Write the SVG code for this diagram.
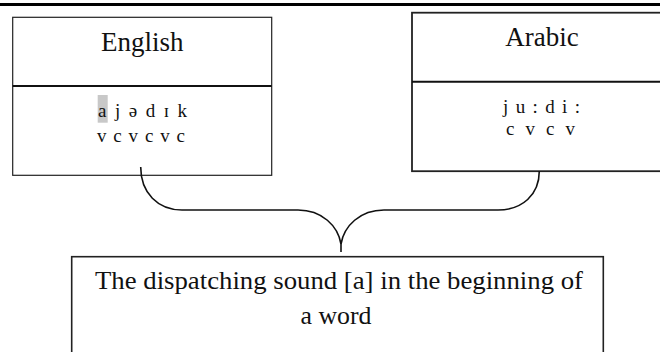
<svg xmlns="http://www.w3.org/2000/svg" width="660" height="352" viewBox="0 0 660 352">
<style>
text{font-family:"Liberation Serif","Times New Roman",serif;fill:#111;text-anchor:middle}
.t{font-size:27px}
.p{font-size:19px}
.b{font-size:25.5px}
.box{fill:#fff;stroke:#222}
.c{fill:none;stroke:#111;stroke-width:1.6}
</style>
<rect x="0" y="0" width="660" height="352" fill="#fff"/>
<line x1="0" y1="4.5" x2="660" y2="4.5" stroke="#000" stroke-width="3"/>
<g id="english">
<rect class="box" x="12.7" y="17.3" width="259" height="158" stroke-width="1.2"/>
<line x1="12.7" y1="86" x2="271.7" y2="86" stroke="#111" stroke-width="2"/>
<text class="t" x="142.2" y="50.7">English</text>
<rect x="97.7" y="95" width="10" height="27.7" fill="#c8c8c8"/>
<text class="p" x="142.5" y="116.7" textLength="89" lengthAdjust="spacing">a j ə d ɪ k</text>
<text class="p" x="141" y="141.7" textLength="88" lengthAdjust="spacing">v c v c v c</text>
</g>
<g id="arabic">
<rect class="box" x="412" y="12.7" width="260" height="158.5" stroke-width="1.8"/>
<line x1="412" y1="81.7" x2="660" y2="81.7" stroke="#111" stroke-width="2"/>
<text class="t" x="542" y="46">Arabic</text>
<text class="p" x="541.5" y="113.3" textLength="77" lengthAdjust="spacing">j u : d i :</text>
<text class="p" x="540.5" y="135" textLength="69" lengthAdjust="spacing">c v c v</text>
</g>
<g id="connectors">
<path class="c" d="M140.7,167 C140.7,193 158,210 182,210 L298,210 C322,210 338,226 341,244 L341,252"/>
<path class="c" d="M539.3,171 C539.3,195 522,210 498,210 L384,210 C360,210 344,226 341,244"/>
</g>
<g id="result">
<rect class="box" x="71.7" y="256.7" width="531.6" height="110" stroke-width="1.6"/>
<text class="b" x="339" y="289.3" textLength="488" lengthAdjust="spacingAndGlyphs">The dispatching sound [a] in the beginning of</text>
<text class="b" x="336" y="324.3" textLength="71" lengthAdjust="spacingAndGlyphs">a word</text>
</g>
</svg>
